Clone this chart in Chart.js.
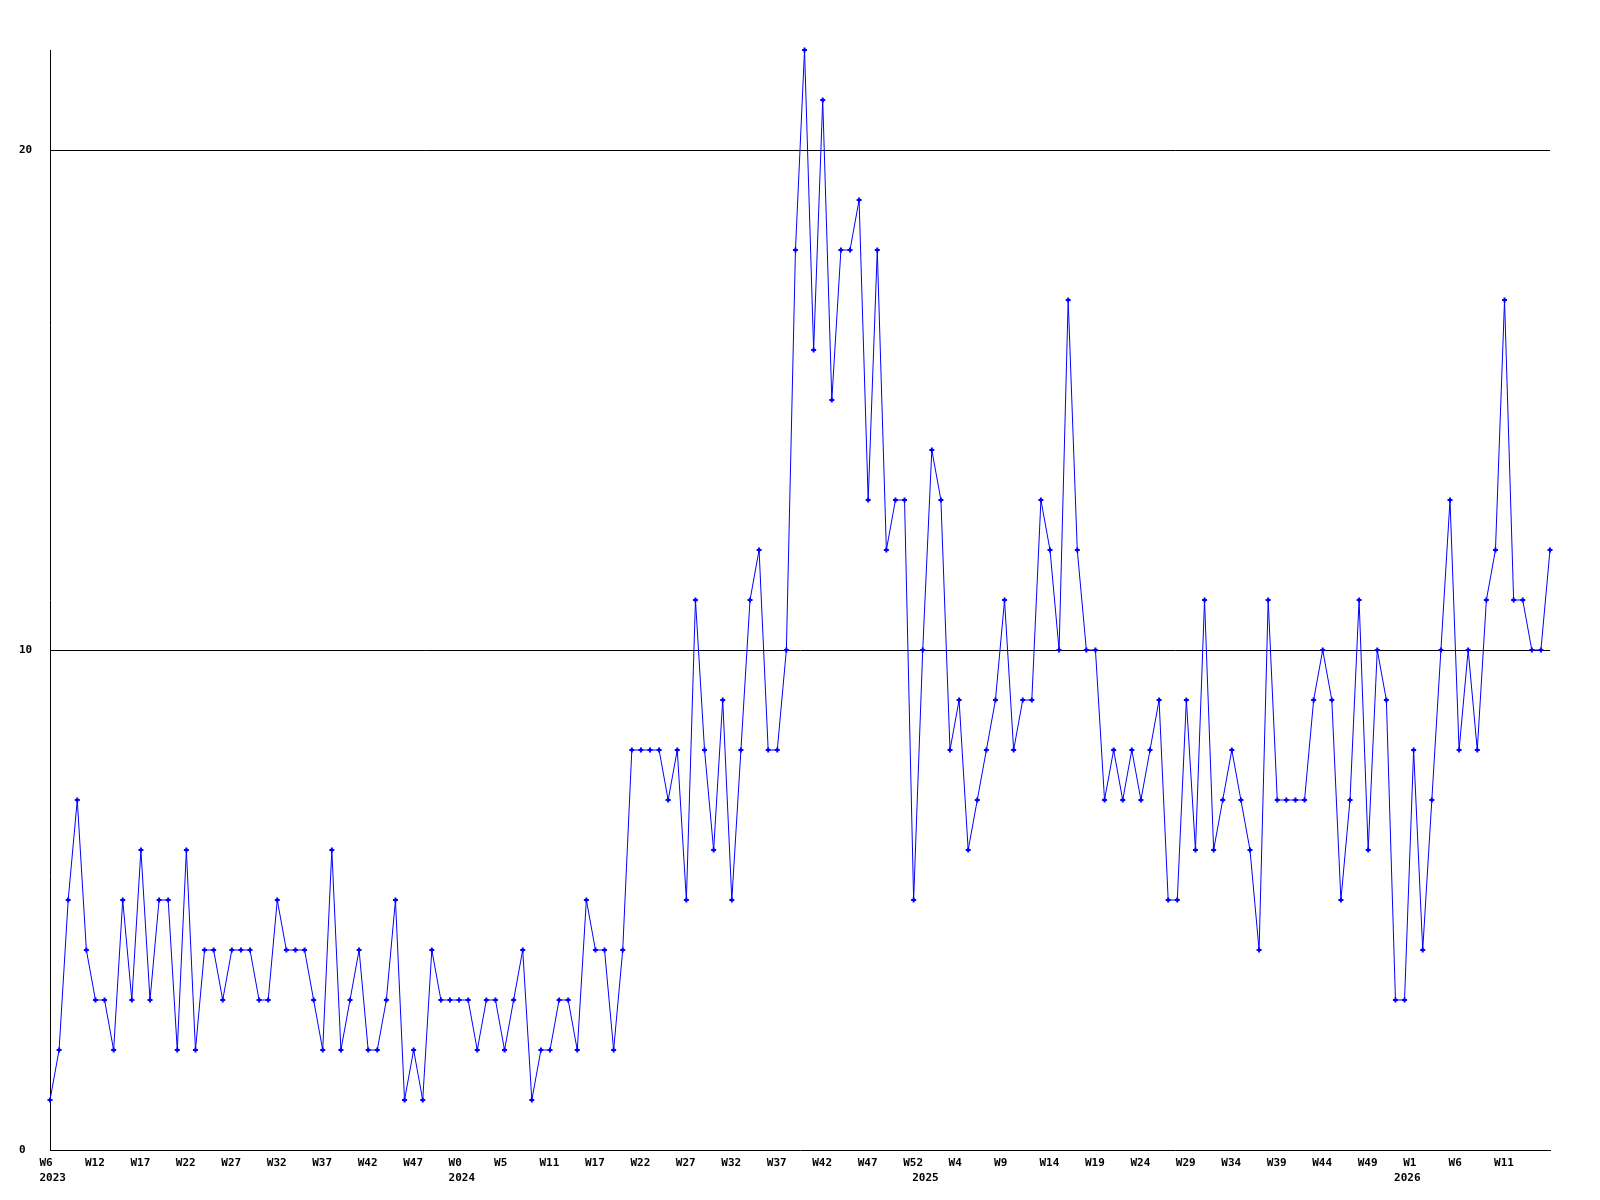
<!DOCTYPE html>
<html>
<head>
<meta charset="utf-8">
<script src="https://cdn.jsdelivr.net/npm/chart.js@4/dist/chart.umd.min.js"></script>
<style>
  html, body { margin: 0; padding: 0; background: #ffffff; }
  canvas { display: block; }
</style>
</head>
<body>
<canvas id="c" width="1600" height="1200"></canvas>
<script>
// Weekly values, 2023 W6 .. 2026 W16
const values = [
  1, 2, 5, 7, 4, 3, 3, 2, 5, 3,
  6, 3, 5, 5, 2, 6, 2, 4, 4, 3,
  4, 4, 4, 3, 3, 5, 4, 4, 4, 3,
  2, 6, 2, 3, 4, 2, 2, 3, 5, 1,
  2, 1, 4, 3, 3, 3, 3, 2, 3, 3,
  2, 3, 4, 1, 2, 2, 3, 3, 2, 5,
  4, 4, 2, 4, 8, 8, 8, 8, 7, 8,
  5, 11, 8, 6, 9, 5, 8, 11, 12, 8,
  8, 10, 18, 22, 16, 21, 15, 18, 18, 19,
  13, 18, 12, 13, 13, 5, 10, 14, 13, 8,
  9, 6, 7, 8, 9, 11, 8, 9, 9, 13,
  12, 10, 17, 12, 10, 10, 7, 8, 7, 8,
  7, 8, 9, 5, 5, 9, 6, 11, 6, 7,
  8, 7, 6, 4, 11, 7, 7, 7, 7, 9,
  10, 9, 5, 7, 11, 6, 10, 9, 3, 3,
  8, 4, 7, 10, 13, 8, 10, 8, 11, 12,
  17, 11, 11, 10, 10, 12
];

// Week tick labels, shown on every 5th point
const weekTicks = [
  'W6', 'W12', 'W17', 'W22', 'W27', 'W32', 'W37', 'W42', 'W47',
  'W0', 'W5', 'W11', 'W17', 'W22', 'W27', 'W32', 'W37', 'W42', 'W47', 'W52',
  'W4', 'W9', 'W14', 'W19', 'W24', 'W29', 'W34', 'W39', 'W44', 'W49',
  'W1', 'W6', 'W11'
];
const weekTickStep = 5;

// Year labels and the point index where each year begins
const yearLabels = ['2023', '2024', '2025', '2026'];
const yearStart = [0, 45, 96, 149];

const yTicks = [0, 10, 20];
const yMax = 22;

const categories = values.map((_, i) => i);

const FONT = { family: '"DejaVu Sans Mono", "Liberation Mono", monospace', size: 11, weight: 'bold', lineHeight: 15 / 11 };

new Chart(document.getElementById('c'), {
  type: 'line',
  data: {
    labels: categories,
    datasets: [{
      data: values,
      borderColor: '#0000ff',
      backgroundColor: '#0000ff',
      borderWidth: 1,
      tension: 0,
      fill: false,
      clip: false,
      pointStyle: 'cross',
      pointRadius: 2.5,
      pointBorderWidth: 2,
      pointBorderColor: '#0000ff',
      pointBackgroundColor: '#0000ff'
    }]
  },
  options: {
    responsive: false,
    devicePixelRatio: 1,
    animation: false,
    layout: { padding: { top: 50, left: 19, right: 50, bottom: 0 } },
    plugins: { legend: { display: false }, tooltip: { enabled: false } },
    scales: {
      x: {
        type: 'category',
        offset: false,
        grid: { display: false, drawTicks: false, tickLength: 0 },
        border: { display: true, color: '#000000', width: 1 },
        ticks: {
          autoSkip: false,
          maxRotation: 0,
          minRotation: 0,
          align: 'start',
          labelOffset: -10.5,
          padding: 6,
          color: '#000000',
          font: FONT,
          callback: function (value, index) {
            const yi = yearStart.indexOf(index);
            const week = (index % weekTickStep === 0 && index / weekTickStep < weekTicks.length)
              ? weekTicks[index / weekTickStep] : null;
            if (week === null && yi < 0) return null;
            if (yi >= 0) return [week || '', yearLabels[yi]];
            return week;
          }
        },
        afterFit: function (scale) { scale.height = 50; }
      },
      y: {
        type: 'linear',
        min: 0,
        max: yMax,
        grid: {
          drawTicks: false,
          tickLength: 0,
          lineWidth: 1,
          color: (ctx) => (ctx.tick && ctx.tick.value === 0) ? 'rgba(0,0,0,0)' : '#000000'
        },
        border: { display: true, color: '#000000', width: 1 },
        ticks: {
          stepSize: 10,
          includeBounds: false,
          crossAlign: 'far',
          padding: 0,
          color: '#000000',
          font: FONT,
          callback: (v) => yTicks.includes(v) ? String(v) : null
        },
        afterFit: function (scale) { scale.width = 31; }
      }
    }
  }
});
</script>
</body>
</html>
